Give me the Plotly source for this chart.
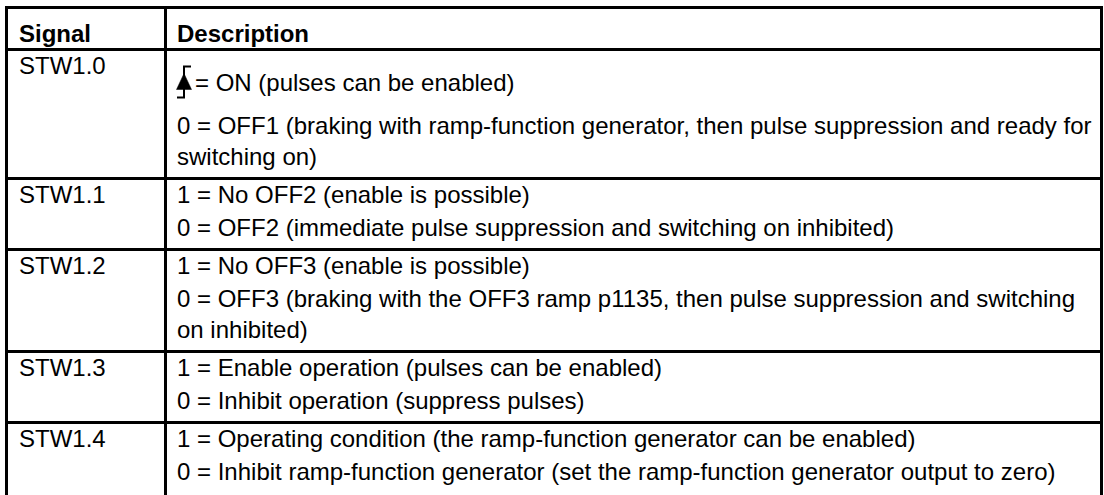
import plotly.graph_objects as go

# ---------------- data ----------------
headers = ["Signal", "Description"]
signals = ["STW1.0", "STW1.1", "STW1.2", "STW1.3", "STW1.4"]
# each signal: list of paragraphs, each paragraph = list of wrapped lines
descriptions = [
    [["= ON (pulses can be enabled)"],
     ["0 = OFF1 (braking with ramp-function generator, then pulse suppression and ready for",
      "switching on)"]],
    [["1 = No OFF2 (enable is possible)"],
     ["0 = OFF2 (immediate pulse suppression and switching on inhibited)"]],
    [["1 = No OFF3 (enable is possible)"],
     ["0 = OFF3 (braking with the OFF3 ramp p1135, then pulse suppression and switching",
      "on inhibited)"]],
    [["1 = Enable operation (pulses can be enabled)"],
     ["0 = Inhibit operation (suppress pulses)"]],
    [["1 = Operating condition (the ramp-function generator can be enabled)"],
     ["0 = Inhibit ramp-function generator (set the ramp-function generator output to zero)"]],
]
rising_edge_first = [True, False, False, False, False]

# ---------------- layout constants ----------------
W, H = 1104, 495
X_LEFT, X_DIV, X_RIGHT = 6.5, 165.5, 1101.5
Y_TOP, HEADER_H = 7.5, 42
SIG_X, DESC_X, EDGE_X = 17, 175, 184
FIRST_OFF, FIRST_OFF_EDGE = 16, 33
PARA_STEP, PARA_STEP_EDGE, LINE_STEP, BOTTOM_PAD = 33, 43, 31, 22
FONT = "Liberation Sans, Arial, sans-serif"
FS = 24
LW = 3

fig = go.Figure()
annotations = []
shapes = []


def text(x, y, s, bold=False):
    annotations.append(dict(
        x=x, y=y, xref="x", yref="y", text=("<b>%s</b>" % s) if bold else s,
        showarrow=False, xanchor="left", yanchor="middle",
        font=dict(family=FONT, size=FS, color="#000000")))


def hline(y):
    shapes.append(dict(type="line", x0=X_LEFT, x1=X_RIGHT, y0=y, y1=y,
                       xref="x", yref="y", line=dict(color="#000", width=LW)))


# header
header_bottom = Y_TOP + HEADER_H
text(SIG_X, Y_TOP + 26, headers[0], bold=True)
text(DESC_X, Y_TOP + 26, headers[1], bold=True)
hline(Y_TOP)
hline(header_bottom)

top = header_bottom
row_bottoms = []
for sig, paras, edge in zip(signals, descriptions, rising_edge_first):
    text(SIG_X, top + FIRST_OFF, sig)
    y = top + (FIRST_OFF_EDGE if edge else FIRST_OFF)
    for pi, para in enumerate(paras):
        if pi > 0:
            y += PARA_STEP_EDGE if (edge and pi == 1) else PARA_STEP
        for li, line in enumerate(para):
            if li > 0:
                y += LINE_STEP
            if edge and pi == 0 and li == 0:
                # rising-edge glyph: low step on the left, high step on the right, up-arrow head
                yt, yb = y - 16, y + 15
                shapes.append(dict(type="path", xref="x", yref="y",
                                   path="M %g,%g L %g,%g L %g,%g L %g,%g" % (
                                       EDGE_X - 7, yb, EDGE_X, yb, EDGE_X, yt, EDGE_X + 7, yt),
                                   line=dict(color="#000", width=2)))
                shapes.append(dict(type="path", xref="x", yref="y",
                                   path="M %g,%g L %g,%g L %g,%g Z" % (
                                       EDGE_X - 7.5, y + 7, EDGE_X + 7.5, y + 7, EDGE_X, y - 9),
                                   fillcolor="#000", line=dict(color="#000", width=0.5)))
                text(EDGE_X + 9, y, line)
            else:
                text(DESC_X, y, line)
    top = y + BOTTOM_PAD
    row_bottoms.append(top)

# separators between signal groups (the last row runs off the bottom edge)
for yb in row_bottoms[:-1]:
    hline(yb)
if row_bottoms[-1] < H - 2:
    hline(row_bottoms[-1])

for xv in (X_LEFT, X_DIV, X_RIGHT):
    shapes.append(dict(type="line", x0=xv, x1=xv, y0=Y_TOP - LW / 2, y1=max(H, row_bottoms[-1]),
                       xref="x", yref="y", line=dict(color="#000", width=LW)))

fig.update_layout(
    width=W, height=H, margin=dict(l=0, r=0, t=0, b=0),
    paper_bgcolor="white", plot_bgcolor="white",
    xaxis=dict(range=[0, W], visible=False, fixedrange=True),
    yaxis=dict(range=[H, 0], visible=False, fixedrange=True),
    annotations=annotations, shapes=shapes, showlegend=False,
)
fig.write_html("out.html", config={"displayModeBar": False},
               post_script="document.body.style.margin='0';document.body.style.overflow='hidden';")
